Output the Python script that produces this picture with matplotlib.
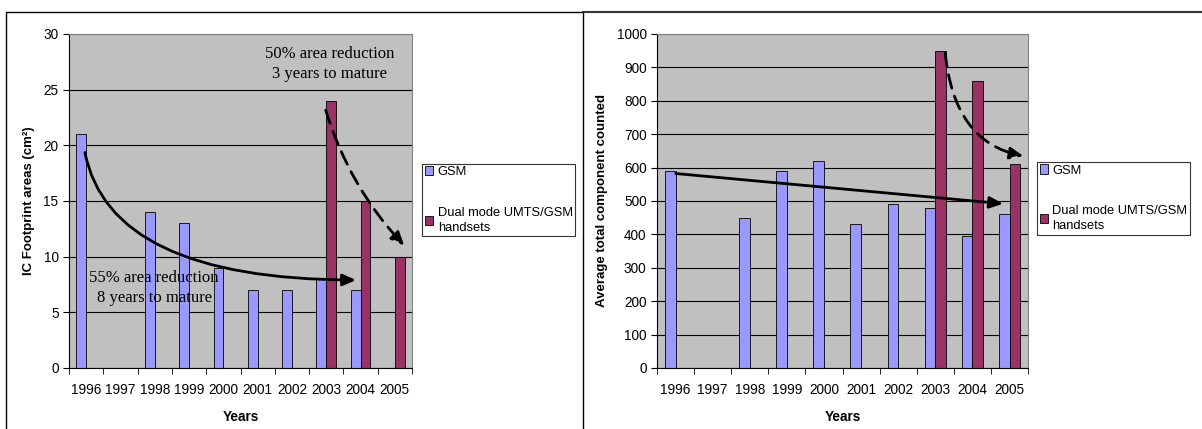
import numpy as np
import matplotlib
matplotlib.use("Agg")
import matplotlib.pyplot as plt
from matplotlib.lines import Line2D

plt.rcParams['font.family'] = ['Liberation Sans', 'DejaVu Sans']

years = ['1996', '1997', '1998', '1999', '2000', '2001', '2002', '2003', '2004', '2005']
# np.nan = no bar for that year
gsm_area = [21, np.nan, 14, 13, 9, 7, 7, 8, 7, np.nan]
dual_area = [np.nan] * 7 + [24, 15, 10]
gsm_count = [590, np.nan, 450, 590, 620, 430, 490, 480, 395, 460]
dual_count = [np.nan] * 7 + [950, 860, 610]

gsm_color = '#9999FF'
dual_color = '#993366'
bg = '#C0C0C0'

fig = plt.figure(figsize=(12.02, 4.29), dpi=100)
ax1 = fig.add_axes([0.0574, 0.1422, 0.2854, 0.7786])
ax2 = fig.add_axes([0.5466, 0.1422, 0.3087, 0.7786])

# panel frames
fig.add_artist(Line2D([0.005, 0.005, 0.485, 0.485], [0.0, 0.972, 0.972, 0.0], color='black', lw=1.0))
fig.add_artist(Line2D([0.485, 1.0], [0.972, 0.972], color='#333333', lw=1.5))

x = np.arange(len(years))
w = 0.2857


def style(ax, ymax, ystep, ylabel):
    ax.set_facecolor(bg)
    ax.set_xlim(-0.5, len(years) - 0.5)
    ax.set_ylim(0, ymax)
    ax.set_yticks(np.arange(0, ymax + 1, ystep))
    ax.grid(axis='y', color='black', lw=0.8)
    ax.set_axisbelow(True)
    ax.set_xticks(x)
    ax.set_xticklabels(years, fontsize=9.8)
    ax.set_xticks(np.arange(-0.5, len(years)), minor=True)
    ax.tick_params(axis='x', which='major', length=0, pad=11)
    ax.tick_params(axis='x', which='minor', length=4, direction='out')
    ax.tick_params(axis='y', length=4, labelsize=9.8)
    ax.set_xlabel('Years', fontsize=9.8, fontweight='bold', labelpad=9)
    ax.set_ylabel(ylabel, fontsize=9.5, fontweight='bold', labelpad=6)
    for s in ['top', 'right']:
        ax.spines[s].set_color('#808080')


legend_kw = dict(loc='upper left', fontsize=9.3, frameon=True, fancybox=False, edgecolor='black',
                 handlelength=0.65, handleheight=0.7, handletextpad=0.35, labelspacing=2.2,
                 borderpad=0.2, borderaxespad=0)

# left chart
ax1.bar(x - w / 2, gsm_area, w, color=gsm_color, edgecolor='black', lw=0.6, label='GSM')
ax1.bar(x + w / 2, dual_area, w, color=dual_color, edgecolor='black', lw=0.6,
        label='Dual mode UMTS/GSM\nhandsets')
style(ax1, 30, 5, 'IC Footprint areas (cm²)')

ax1.text(0.76, 0.91, '50% area reduction\n3 years to mature', transform=ax1.transAxes,
         ha='center', va='center', fontsize=12, family='Liberation Serif', linespacing=1.3)
ax1.text(0.248, 0.24, '55% area reduction\n8 years to mature', transform=ax1.transAxes,
         ha='center', va='center', fontsize=12, family='Liberation Serif', linespacing=1.3)
ax1.annotate('', xy=(7.95, 7.9), xytext=(-0.05, 19.6),
             arrowprops=dict(arrowstyle='-|>,head_length=0.8,head_width=0.35', color='black', lw=2,
                             connectionstyle='angle3,angleA=100,angleB=0'))
ax1.annotate('', xy=(9.33, 10.8), xytext=(6.96, 23.4),
             arrowprops=dict(arrowstyle='-|>,head_length=0.8,head_width=0.35', color='black', lw=2,
                             linestyle=(0, (5, 3)), connectionstyle='arc3,rad=0.12'))

leg1 = ax1.legend(bbox_to_anchor=(1.03, 0.612), **legend_kw)
leg1.get_frame().set_linewidth(0.8)
for t in leg1.get_texts():
    t.set_linespacing(1.35)

# right chart
ax2.bar(x - w / 2, gsm_count, w, color=gsm_color, edgecolor='black', lw=0.6, label='GSM')
ax2.bar(x + w / 2, dual_count, w, color=dual_color, edgecolor='black', lw=0.6,
        label='Dual mode UMTS/GSM\nhandsets')
style(ax2, 1000, 100, 'Average total component counted')

ax2.annotate('', xy=(8.9, 491), xytext=(-0.07, 583),
             arrowprops=dict(arrowstyle='-|>,head_length=0.8,head_width=0.35', color='black', lw=2))
ax2.annotate('', xy=(9.45, 633), xytext=(7.26, 952),
             arrowprops=dict(arrowstyle='-|>,head_length=0.8,head_width=0.35', color='black', lw=2,
                             linestyle=(0, (5, 3)), connectionstyle='angle3,angleA=-85,angleB=-10'))

leg2 = ax2.legend(bbox_to_anchor=(1.024, 0.617), **legend_kw)
leg2.get_frame().set_linewidth(0.8)
for t in leg2.get_texts():
    t.set_linespacing(1.35)

fig.savefig('out.png', dpi=100)
